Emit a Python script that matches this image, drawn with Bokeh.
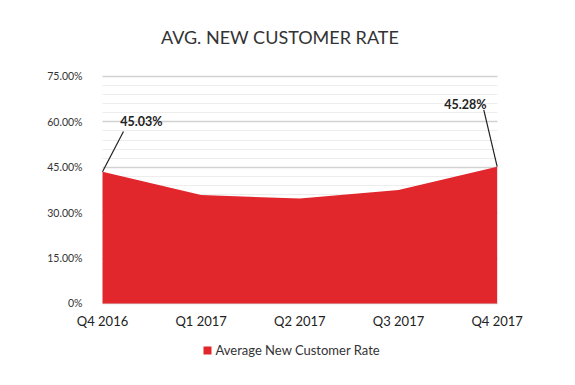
from bokeh.plotting import figure
from bokeh.models import Range1d, FixedTicker, Label, LinearAxis, Grid, Legend, LegendItem
from bokeh.embed import file_html
from bokeh.resources import INLINE

# ---- data ----
quarters = ["Q4 2016", "Q1 2017", "Q2 2017", "Q3 2017", "Q4 2017"]
rate = [43.5, 35.8, 34.7, 37.5, 45.2]
annot_labels = ["45.03%", "45.28%"]
y_ticks = [0, 15, 30, 45, 60, 75]
y_tick_labels = ["0%", "15.00%", "30.00%", "45.00%", "60.00%", "75.00%"]
y_minor = [3, 6, 9, 12, 18, 21, 24, 27, 33, 36, 39, 42, 48, 51, 54, 57, 63, 66, 69, 72]
series_name = "Average New Customer Rate"
title_text = "AVG. NEW CUSTOMER RATE"

FONT = "Lato"
RED = "#E1262C"
xs = list(range(len(quarters)))

# layout: the frame is extended around the data area so that the title, axis
# labels and legend (all drawn inside the frame) are not clipped
X_LOW, X_HIGH = -0.75, len(quarters) - 1 + 0.5
Y_LOW, Y_HIGH = -21.5, 93.5
ypx = 227 / 75.0      # px per percent
xpx = 98.75           # px per quarter
frame_h = round((Y_HIGH - Y_LOW) * ypx)
frame_w = round((X_HIGH - X_LOW) * xpx)
W, H = 559, 375
LEFT, TOP = 28, 20

p = figure(width=W, height=H, output_backend="svg", toolbar_location=None,
           x_range=Range1d(X_LOW, X_HIGH), y_range=Range1d(Y_LOW, Y_HIGH),
           x_axis_type=None, y_axis_type=None,
           min_border_left=LEFT, min_border_right=W - LEFT - frame_w,
           min_border_top=TOP, min_border_bottom=H - TOP - frame_h)
p.title.text = ""
p.outline_line_color = None
p.background_fill_color = "white"
p.border_fill_color = "white"

# axes
yticker = FixedTicker(ticks=y_ticks, minor_ticks=y_minor)
yax = LinearAxis(ticker=yticker, fixed_location=0)
yax.major_label_overrides = {t: l for t, l in zip(y_ticks, y_tick_labels)}
yax.axis_line_color = None
yax.major_tick_line_color = None
yax.minor_tick_line_color = None
yax.major_tick_out = 0
yax.major_tick_in = 0
yax.minor_tick_out = 0
yax.major_label_standoff = 20
yax.major_label_text_font = FONT
yax.major_label_text_font_size = "10.5px"
yax.major_label_text_color = "#333333"
p.add_layout(yax, "left")

xax = LinearAxis(ticker=FixedTicker(ticks=xs), fixed_location=0)
xax.major_label_overrides = {i: q for i, q in zip(xs, quarters)}
xax.axis_line_color = None
xax.major_tick_line_color = None
xax.minor_tick_line_color = None
xax.major_tick_out = 0
xax.major_tick_in = 0
xax.minor_tick_out = 0
xax.major_label_standoff = 10
xax.major_label_text_font = FONT
xax.major_label_text_font_size = "13px"
xax.major_label_text_color = "#222222"
p.add_layout(xax, "below")

grid = Grid(dimension=1, ticker=yticker, cross_bounds=(xs[0], xs[-1]),
            grid_line_color="#d2d2d2", grid_line_width=1.5,
            minor_grid_line_color="#ededed", minor_grid_line_width=1)
p.add_layout(grid)

# area
area = p.varea(x=xs, y1=[0] * len(xs), y2=rate, fill_color=RED)

# leader lines
p.segment(x0=[xs[0], xs[-1]], y0=[rate[0], rate[-1]],
          x1=[xs[0] + 21 / xpx, xs[-1] - 13.4 / xpx],
          y1=[rate[0] + 40.3 / ypx, rate[-1] + 56.7 / ypx],
          line_color="#222222", line_width=1.2)

p.add_layout(Label(x=xs[0], y=rate[0], x_offset=17.7, y_offset=50, text=annot_labels[0],
                   text_font=FONT, text_font_style="bold", text_font_size="12.5px",
                   text_color="#222222", text_align="left", text_baseline="middle"))
p.add_layout(Label(x=xs[-1], y=rate[-1], x_offset=-10.7, y_offset=62, text=annot_labels[1],
                   text_font=FONT, text_font_style="bold", text_font_size="12.5px",
                   text_color="#222222", text_align="right", text_baseline="middle"))

# title (screen units, relative to the frame's bottom-left corner)
p.add_layout(Label(x=251.5, y=frame_h - 16, x_units="screen", y_units="screen",
                   text=title_text, text_font=FONT, text_font_size="18px",
                   text_color="#333333", text_align="center", text_baseline="middle"))

# legend (inside the extended frame, below the x labels)
lg = Legend(items=[LegendItem(label=series_name, renderers=[area])],
            orientation="horizontal", location=(173.5, 10.3), padding=0, margin=0,
            border_line_color=None, background_fill_alpha=0,
            glyph_width=10, glyph_height=10, label_height=10, label_standoff=4,
            label_text_font=FONT, label_text_font_size="13px", label_text_color="#333333")
p.add_layout(lg)

open("out.html", "w").write(file_html(p, INLINE))
